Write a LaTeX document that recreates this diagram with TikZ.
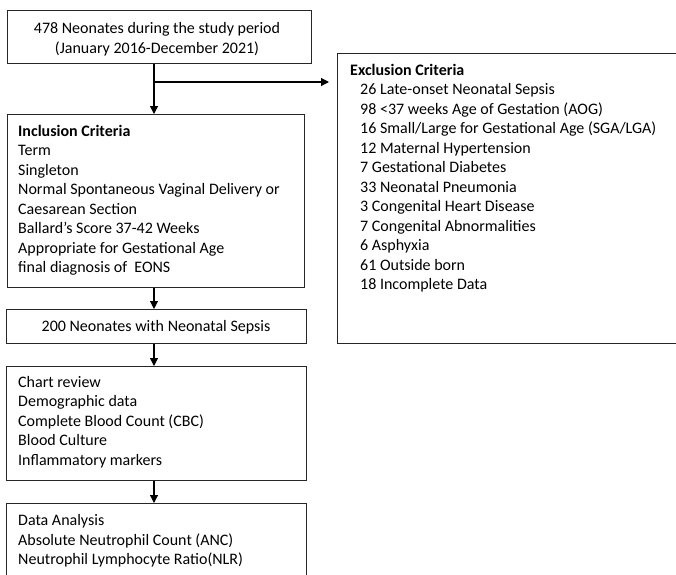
\documentclass[tikz,border=0pt]{standalone}
\usepackage{fontspec}
\setmainfont{Carlito}
\usetikzlibrary{arrows.meta}
\tikzset{
  boxnode/.style={draw=black!85, line width=1.1pt, inner sep=0pt, anchor=north west},
  txt/.style={inner sep=0pt, anchor=north west, align=left, font=\fontsize{16}{19.5}\selectfont},
  ctxt/.style={inner sep=0pt, align=center, font=\fontsize{16}{19.8}\selectfont},
  arr/.style={line width=1.1pt, -{Triangle[width=8pt,length=8pt]}},
}
\begin{document}
\begin{tikzpicture}[x=1pt,y=-1pt]
\useasboundingbox (0,0) rectangle (676,574);
% boxes
\node[boxnode, minimum width=304pt, minimum height=53pt] (b1) at (7,10) {};
\node[boxnode, minimum width=297pt, minimum height=173pt] (b2) at (7,114) {};
\node[boxnode, minimum width=360pt, minimum height=290pt] (ex) at (337,53) {};
\node[boxnode, minimum width=300pt, minimum height=34pt] (b3) at (6,309) {};
\node[boxnode, minimum width=300pt, minimum height=114pt] (b4) at (6,366) {};
\node[boxnode, minimum width=300pt, minimum height=90pt] (b5) at (6,503) {};
% texts
\node[ctxt] (t1) at (157,39) {478 Neonates during the study period\\(January 2016-December 2021)};
\node[txt] (t2) at (18,125) {\textbf{Inclusion Criteria}\\Term\\Singleton\\Normal Spontaneous Vaginal Delivery or\\Caesarean Section\\Ballard’s Score 37-42 Weeks\\Appropriate for Gestational Age\\final diagnosis of\ \ EONS};
\node[txt] (tex) at (350,64) {\textbf{Exclusion Criteria}\\
\hspace*{10pt}26 Late-onset Neonatal Sepsis\\
\hspace*{10pt}98 <37 weeks Age of Gestation (AOG)\\
\hspace*{10pt}16 Small/Large for Gestational Age (SGA/LGA)\\
\hspace*{10pt}12 Maternal Hypertension\\
\hspace*{10pt}7 Gestational Diabetes\\
\hspace*{10pt}33 Neonatal Pneumonia\\
\hspace*{10pt}3 Congenital Heart Disease\\
\hspace*{10pt}7 Congenital Abnormalities\\
\hspace*{10pt}6 Asphyxia\\
\hspace*{10pt}61 Outside born\\
\hspace*{10pt}18 Incomplete Data};
\node[ctxt] (t3) at (156,327) {200 Neonates with Neonatal Sepsis};
\node[txt] (t4) at (18,376) {Chart review\\Demographic data\\Complete Blood Count (CBC)\\Blood Culture\\Inflammatory markers};
\node[txt] (t5) at (18,514.5) {Data Analysis\\Absolute Neutrophil Count (ANC)\\Neutrophil Lymphocyte Ratio(NLR)};
% connectors
\coordinate (br) at (154,82);
\draw[arr] (b1.south -| br) -- (b2.north -| br);
\draw[arr, shorten >=8pt] (br) -- (br -| ex.west);
\draw[arr] (b2.south -| br) -- (b3.north -| br);
\draw[arr] (b3.south -| br) -- (b4.north -| br);
\draw[arr] (b4.south -| br) -- (b5.north -| br);
\end{tikzpicture}
\end{document}
